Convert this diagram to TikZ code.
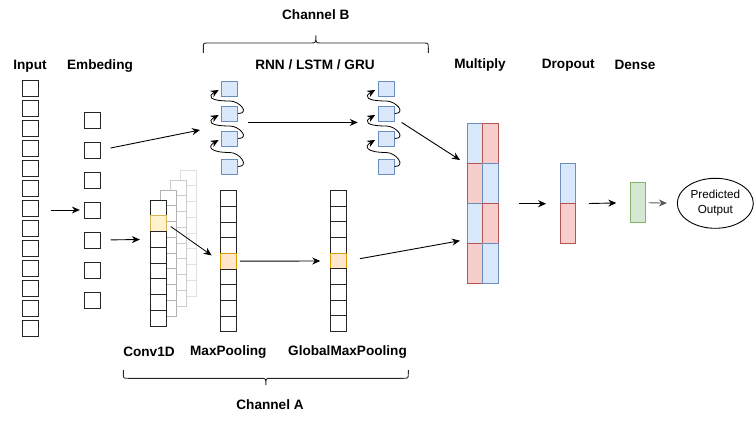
\documentclass[tikz,border=0pt]{standalone}
\usepackage{fontspec}
\setmainfont{Liberation Sans}
\usetikzlibrary{arrows.meta,calc,shapes.geometric}
\definecolor{bluefill}{HTML}{DAE8FC}
\definecolor{blueline}{HTML}{6C8EBF}
\definecolor{redfill}{HTML}{F8CECC}
\definecolor{redline}{HTML}{B85450}
\definecolor{greenfill}{HTML}{D5E8D4}
\definecolor{greenline}{HTML}{82B366}
\definecolor{yelfill}{HTML}{FFF2CC}
\definecolor{yelline}{HTML}{D6B656}
\definecolor{orgfill}{HTML}{FFE6CC}
\definecolor{orgline}{HTML}{D79B00}
\begin{document}
\begin{tikzpicture}[x=1pt,y=-1pt,line width=0.9pt,
    >={Stealth[length=8pt,width=7pt]},
    title/.style={font=\fontsize{13.6}{16}\selectfont\bfseries},
    box/.style={draw=black!85,fill=white,minimum width=16pt,minimum height=16pt,inner sep=0pt},
    cell/.style={box,minimum height=15.7pt},
    plain/.style={},
    hlyel/.style={fill=yelfill,draw=yelline},
    hlorg/.style={fill=orgfill,draw=orgline},
    bl/.style={fill=bluefill,draw=blueline},
    rd/.style={fill=redfill,draw=redline},
    rnn/.style={box,bl,minimum height=15pt},
    mcell/.style={draw,inner sep=0pt,minimum width=15.3pt,minimum height=40pt}]
    \useasboundingbox (0,0) rectangle (754,420);
    %
    \node[title] (tin) at (30,66) {Input};
    \node[title] (tem) at (100,66) {Embeding};
    \node[title] (tchb) at (315.8,15) {Channel B};
    \node[title] (trnn) at (315,65) {RNN / LSTM / GRU};
    \node[title] (tmul) at (480,65) {Multiply};
    \node[title] (tdo) at (568.3,65) {Dropout};
    \node[title] (tde) at (635,65) {Dense};
    \node[title] (tcv) at (149,352) {Conv1D};
    \node[title] (tmp) at (228.3,352) {MaxPooling};
    \node[title] (tgm) at (347.5,352) {GlobalMaxPooling};
    \node[title] (tcha) at (270,405) {Channel A};
    %
    \foreach \i in {1,...,13}
      \node[box,minimum width=15.6pt] (in\i) at (30.5,{88+20*(\i-1)}) {};
    \foreach \i in {1,...,7}
      \node[box] (em\i) at (92.3,{120+30*(\i-1)}) {};
    %
    \foreach \k/\c in {3/black!12,2/black!20,1/black!30}
      \foreach \i in {1,...,8}
        \node[cell,draw=\c] (f\k\i) at ({158.3+10*\k},{207.9-10*\k+15.75*(\i-1)}) {};
    \foreach \i/\s in {1/plain,2/hlyel,3/plain,4/plain,5/plain,6/plain,7/plain,8/plain}
      \node[cell,\s] (cv\i) at (158.3,{207.9+15.75*(\i-1)}) {};
    \foreach \i/\s in {1/plain,2/plain,3/plain,4/plain,5/hlorg,6/plain,7/plain,8/plain,9/plain}{
      \node[cell,\s] (mp\i) at (228.3,{198.5+15.67*(\i-1)}) {};
      \node[cell,\s] (gm\i) at (338.7,{198.3+15.67*(\i-1)}) {};
    }
    %
    \foreach \i/\y in {1/88.5,2/113.5,3/138.5,4/166.5}{
      \node[rnn] (ra\i) at (229.7,\y) {};
      \node[rnn] (rb\i) at (386.2,\y) {};
    }
    \foreach \c in {ra,rb}
      \foreach \i/\j in {1/2,2/3,3/4}
        \draw[->,line width=0.8pt,shorten >=3pt] (\c\j.east) .. controls +(12,0) and +(10,0) .. ($(\c\i.south)!.5!(\c\j.north)$)
          .. controls +(-20,0) and +(-14,8) .. (\c\i.west);
    %
    \foreach \i/\a/\b in {1/bl/rd,2/rd/bl,3/bl/rd,4/rd/bl}{
      \node[mcell,\a] (ml\i) at (475.2,{143.3+40*(\i-1)}) {};
      \node[mcell,\b] (mr\i) at (490.5,{143.3+40*(\i-1)}) {};
    }
    \node[mcell,bl] (do1) at (568.2,183.3) {};
    \node[mcell,rd] (do2) at (568.2,223.3) {};
    \node[mcell,fill=greenfill,draw=greenline] (dense) at (638,202.7) {};
    \node[draw,ellipse,minimum width=76pt,minimum height=50pt,inner sep=0pt,align=center,
      font=\fontsize{11.7}{15}\selectfont] (out) at (715.3,203.3) {Predicted\\Output};
    %
    \coordinate (rin) at (200,130);
    \coordinate (mhi) at (460,160);
    \coordinate (mlo) at (460,240.7);
    \draw[->,shorten <=12pt,shorten >=4pt] (em4.west -| in7.east) -- (em4.west);
    \draw[->,shorten <=10pt] (em2.east) -- (rin);
    \draw[->,shorten <=10pt,shorten >=10pt] (em5.east) -- (cv3.west);
    \draw[->,line width=0.8pt,shorten <=5pt,shorten >=10pt] (cv2.east) -- (mp5.west);
    \draw[->,shorten <=3pt,shorten >=10pt] (mp5.east) -- (gm5.west);
    \draw[->,shorten <=13pt] (gm5.east) -- (mlo);
    \draw[->] ($(ra2.south east)+(10,1)$) -- ($(rb2.south west)+(-20,1)$);
    \draw[->] ($(rb2.south east)+(7,1)$) -- (mhi);
    \draw[->,shorten <=20pt,shorten >=14pt] (mr2.south east) -- (do1.south west);
    \draw[->,shorten <=12.6pt,shorten >=13.6pt] (do1.south east) -- (dense.west);
    \draw[->,black!65,shorten <=2.6pt,shorten >=10pt] (dense.east) -- (out.west);
    %
    \draw[black!85] (203.3,53) -- (203.3,48) .. controls (203.3,43) .. (208.3,43) -- (310.8,43)
      .. controls (315.8,43) .. (315.8,35.3) .. controls (315.8,43) .. (320.8,43) -- (423.3,43)
      .. controls (428.3,43) .. (428.3,48) -- (428.3,53);
    \draw[black!85] (123.3,370) -- (123.3,373.3) .. controls (123.3,378.3) .. (128.3,378.3) -- (260.8,378.3)
      .. controls (265.8,378.3) .. (265.8,385) .. controls (265.8,378.3) .. (270.8,378.3) -- (403.3,378.3)
      .. controls (408.3,378.3) .. (408.3,373.3) -- (408.3,370);
\end{tikzpicture}
\end{document}
